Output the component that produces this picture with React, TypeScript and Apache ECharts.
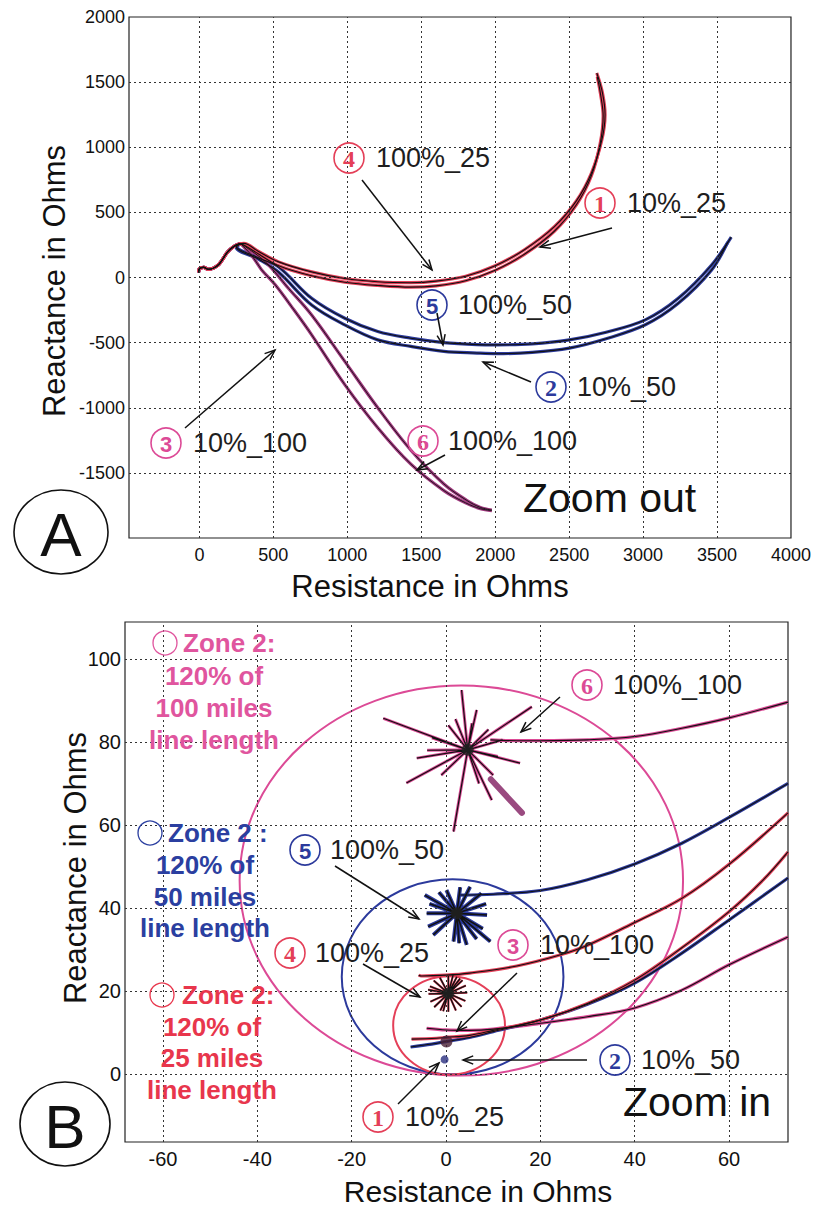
import React, { useEffect, useRef } from 'react';
import * as echarts from 'echarts';

const FONT = '"Liberation Sans", Arial, sans-serif';
const SERIF = '"Liberation Serif", "DejaVu Serif", serif';

const RED = '#e43f58';
const BLUE = '#2c3a9c';
const PINK = '#dc4a96';
const PURPLE = '#a0387e';
const INK = '#1e1e1e';

// ---------- Panel A (zoom out) ----------
const aXLabels = [0, 500, 1000, 1500, 2000, 2500, 3000, 3500, 4000];
const aYLabels = [-1500, -1000, -500, 0, 500, 1000, 1500, 2000];
const aXGrid = [0, 500, 1000, 1500, 2000, 2500, 3000, 3500];
const aYGrid = [-1500, -1000, -500, 0, 500, 1000, 1500];

const aCommonStart = [[-5, 40], [0, 68], [30, 78], [60, 62], [95, 72], [135, 105], [190, 195], [235, 240], [275, 258]];
const aRed10_25 = [[300, 262], [400, 200], [536, 120], [759, 43], [983, -8], [1206, -33], [1430, -40], [1600, -28], [1800, 10], [2000, 90], [2200, 215], [2400, 390], [2550, 590], [2650, 800], [2720, 1050], [2743, 1250], [2725, 1420], [2687, 1570]];
const aRed100_25 = [[300, 250], [400, 180], [536, 90], [759, 13], [983, -36], [1206, -61], [1430, -74], [1600, -64], [1800, -25], [2000, 55], [2200, 180], [2400, 355], [2550, 560], [2650, 780], [2710, 1030], [2730, 1240], [2712, 1410], [2690, 1540]];
const aBlue10_50 = [[250, 230], [402, 140], [536, 40], [759, -211], [983, -364], [1206, -479], [1430, -529], [1653, -567], [1876, -580], [2010, -585], [2250, -575], [2501, -542], [2750, -470], [3015, -363], [3238, -198], [3462, 56], [3573, 272]];
const aBlue100_50 = [[250, 240], [402, 150], [536, 80], [759, -160], [983, -313], [1206, -415], [1430, -466], [1653, -500], [1876, -515], [2010, -517], [2250, -510], [2501, -479], [2750, -420], [3015, -325], [3238, -160], [3462, 94], [3596, 310]];
const aPurple10_100 = [[300, 235], [360, 160], [420, 60], [514, -58], [640, -250], [759, -440], [983, -822], [1206, -1153], [1430, -1433], [1653, -1636], [1800, -1730], [1900, -1775], [1977, -1790]];
const aPurple100_100 = [[300, 245], [447, 120], [603, -84], [759, -288], [983, -644], [1206, -1000], [1430, -1326], [1653, -1585], [1809, -1712], [1900, -1765], [1977, -1785]];

// ---------- Panel B (zoom in) ----------
const bXLabels = [-60, -40, -20, 0, 20, 40, 60];
const bYLabels = [0, 20, 40, 60, 80, 100];

const bLine100_100 = [[9.4, 80.5], [15, 80.3], [20, 80.3], [30, 80.5], [40, 81.3], [50, 83.3], [60, 85.8], [72.5, 89.6]];
const bLine100_50 = [[3, 43.1], [10, 43.3], [20, 44.2], [30, 46.8], [40, 50.6], [50, 55.6], [60, 61.8], [72.5, 70]];
const bLine100_25 = [[-5.8, 23.8], [-5.2, 23.6], [0, 23.8], [5, 24.3], [15, 26], [24.3, 28.7], [30, 31], [40, 36.5], [50, 42.3], [60, 50.5], [72.5, 62.9]];
const bLine10_25 = [[-7.3, 8.4], [-2, 8.6], [0, 8.8], [5, 9.3], [10, 10.5], [20, 13], [30, 17], [40, 22.6], [50, 30.4], [60, 39.1], [67.2, 46.7], [72.5, 53.5]];
const bLine10_50 = [[-7.5, 6.5], [-3, 7.2], [0, 7.8], [5, 8.8], [10, 10.2], [20, 13], [30, 16.8], [40, 21.9], [50, 29.1], [60, 37.1], [72.5, 47.2]];
const bLine10_100 = [[-4.1, 11], [0, 10.6], [5, 10.5], [10, 10.8], [20, 12.2], [30, 13.8], [40, 15.9], [50, 20.2], [60, 26.3], [72.5, 33]];

const bStar6Center = [4.6, 78.1];
const bStar6Tips = [[3.3, 92.5], [6.5, 87.7], [18.2, 88.5], [-13.3, 85.7], [15.7, 74.9], [-6.2, 76.1], [-8.4, 70.1], [1.6, 58.4], [9.7, 66], [0.5, 84], [9, 83], [12, 80.5], [10, 72], [-1, 72], [-3, 81], [7, 70], [2, 85.5], [-4, 78], [11, 76.5], [5.5, 84.5]];
const bStar6Filled = [[9.5, 71], [16.1, 62.9]];
const bStar5Center = [2.3, 38.7];
const bStar5Tips = [[-4.5, 43.1], [0.1, 44.3], [5.1, 45.1], [7.5, 43.5], [8.7, 38.3], [9.4, 31.9], [4.4, 31.1], [1.6, 31.9], [-2.7, 33.5], [-4.1, 38.7], [-3.5, 41], [7.8, 35], [3, 45], [-1.5, 43.8], [8.5, 41], [-3.8, 35.5], [6.5, 32.5], [2.8, 31.5]];
const bStar4Center = [0.5, 19.4];
const bStar4Tips = [[4.5, 19.6], [4.2, 21.3], [3.5, 22.6], [2.3, 23.4], [0.5, 23.6], [-1.3, 23.2], [-2.6, 22.5], [-3.4, 21.1], [-3.7, 19.3], [-3.3, 17.4], [-2.5, 16.1], [-1.2, 15.3], [0.5, 15], [2.1, 15.3], [3.3, 16.2], [4.1, 17.6], [-3.8, 20.3], [1.5, 23.8], [-0.6, 15.1], [3, 23]];
const bDot10_100 = [[0.1, 7.8]];
const bDot10_25 = [[-0.3, 3.5]];

// zone-2 mho circles: [centerR, centerX, radius]
const bZoneCircles = [[3.25, 46.6, 47], [1.4, 23.4, 23.5], [0.65, 11.7, 11.85]];
const bZoneColors = [PINK, BLUE, RED];

function spokes(center: number[], tips: number[][]) {
  const out: number[][] = [];
  tips.forEach((t) => { out.push(center, t); });
  out.push(center);
  return out;
}

function dualLine(data: number[][], color: string, gi: number, w = 3.2, bw = 1.1, smooth: any = 0.35) {
  return [
    { type: 'line', xAxisIndex: gi, yAxisIndex: gi, data, smooth, showSymbol: false, symbol: 'none', lineStyle: { color, width: w }, z: 3, silent: true },
    { type: 'line', xAxisIndex: gi, yAxisIndex: gi, data, smooth, showSymbol: false, symbol: 'none', lineStyle: { color: '#111', width: bw }, z: 4, silent: true },
  ];
}

function gridSeries(gi: number, xs: number[], ys: number[]) {
  return {
    type: 'line', xAxisIndex: gi, yAxisIndex: gi, data: [], silent: true, z: 1,
    markLine: {
      silent: true, symbol: ['none', 'none'], label: { show: false }, animation: false,
      lineStyle: { type: [2, 3], color: '#333', width: 1 },
      data: [...xs.map((v) => ({ xAxis: v })), ...ys.map((v) => ({ yAxis: v }))],
    },
  };
}

function arrow(x1: number, y1: number, x2: number, y2: number) {
  const a = Math.atan2(y2 - y1, x2 - x1);
  const L = 11, s = 0.38;
  return [
    { type: 'line', shape: { x1, y1, x2, y2 }, style: { stroke: '#111', lineWidth: 1.5 }, z: 100 },
    { type: 'polyline', shape: { points: [[x2 - L * Math.cos(a - s), y2 - L * Math.sin(a - s)], [x2, y2], [x2 - L * Math.cos(a + s), y2 - L * Math.sin(a + s)]] }, style: { stroke: '#111', lineWidth: 1.5, fill: 'none' }, z: 100 },
  ];
}

function txt(text: string, x: number, y: number, size: number, color: string, opts: any = {}) {
  const align = opts.align || 'left';
  return {
    type: 'text', x, y, rotation: opts.rotation || 0, z: 101,
    style: {
      text, fill: color, font: `${opts.bold ? 'bold ' : ''}${size}px ${opts.family || FONT}`,
      textAlign: align, align, textVerticalAlign: 'middle', verticalAlign: 'middle',
    },
  };
}

function circledNum(n: string, cx: number, cy: number, color: string, serif: boolean) {
  return [
    { type: 'circle', shape: { cx, cy, r: 15 }, style: { stroke: color, lineWidth: 1.6, fill: 'none' }, z: 100 },
    txt(n, cx, cy + 1, serif ? 24 : 22, color, { align: 'center', family: serif ? SERIF : FONT, bold: true }),
  ];
}

const annA = [
  { n: '4', c: RED, serif: true, cx: 349, cy: 158, label: '100%_25', tx: 376 },
  { n: '1', c: RED, serif: true, cx: 600, cy: 203, label: '10%_25', tx: 627 },
  { n: '5', c: BLUE, serif: false, cx: 432, cy: 305, label: '100%_50', tx: 458 },
  { n: '2', c: BLUE, serif: true, cx: 551, cy: 387, label: '10%_50', tx: 577 },
  { n: '3', c: PINK, serif: false, cx: 166, cy: 443, label: '10%_100', tx: 193 },
  { n: '6', c: PINK, serif: true, cx: 423, cy: 441, label: '100%_100', tx: 448 },
];
const arrowsA = [[362, 180, 432, 270], [612, 228, 540, 247], [437, 313, 443, 345], [531, 382, 483, 362], [185, 428, 275, 350], [445, 455, 417, 470]];

const annB = [
  { n: '6', c: PINK, serif: true, cx: 587, cy: 685, label: '100%_100', tx: 613 },
  { n: '5', c: BLUE, serif: false, cx: 305, cy: 850, label: '100%_50', tx: 330 },
  { n: '4', c: RED, serif: true, cx: 290, cy: 953, label: '100%_25', tx: 315 },
  { n: '3', c: PINK, serif: false, cx: 513, cy: 945, label: '10%_100', tx: 540 },
  { n: '2', c: BLUE, serif: true, cx: 615, cy: 1060, label: '10%_50', tx: 641 },
  { n: '1', c: RED, serif: true, cx: 378, cy: 1117, label: '10%_25', tx: 405 },
];
const arrowsB = [[560, 697, 521, 732], [335, 866, 419, 919], [363, 964, 420, 997], [517, 973, 457, 1031], [587, 1060, 463, 1060], [398, 1104, 439, 1063]];

const zoneNotes = [
  { color: '#e0559e', cx: 165, cy: 643, first: 'Zone 2:', fx: 183, lines: ['120% of', '100 miles', 'line length'], mx: 214, ys: [676, 708, 740] },
  { color: '#2b3fa0', cx: 150, cy: 833, first: 'Zone 2 :', fx: 168, lines: ['120% of', '50 miles', 'line length'], mx: 205, ys: [865, 897, 928] },
  { color: '#e8364c', cx: 162, cy: 995, first: 'Zone 2:', fx: 182, lines: ['120% of', '25 miles', 'line length'], mx: 212, ys: [1027, 1058, 1090] },
];

export default function App() {
  const ref = useRef<HTMLDivElement>(null);
  useEffect(() => {
    if (!ref.current) return;
    const chart = echarts.init(ref.current, null, { renderer: 'svg' });

    const graphics: any[] = [];
    annA.concat(annB).forEach((a) => {
      graphics.push(...circledNum(a.n, a.cx, a.cy, a.c, a.serif));
      graphics.push(txt(a.label, a.tx, a.cy, 27, INK));
    });
    arrowsA.concat(arrowsB).forEach((r) => graphics.push(...arrow(r[0], r[1], r[2], r[3])));
    zoneNotes.forEach((z) => {
      graphics.push({ type: 'circle', shape: { cx: z.cx, cy: z.cy, r: 12 }, style: { stroke: z.color, lineWidth: 1.3, fill: 'none' }, z: 100 });
      graphics.push(txt(z.first, z.fx, z.cy, 26, z.color, { bold: true }));
      z.lines.forEach((l, i) => graphics.push(txt(l, z.mx, z.ys[i], 26, z.color, { bold: true, align: 'center' })));
    });
    // panel letters
    graphics.push({ type: 'ellipse', shape: { cx: 61, cy: 532, rx: 47, ry: 42 }, style: { stroke: '#111', lineWidth: 1.6, fill: 'none' }, z: 100 });
    graphics.push(txt('A', 61, 534, 62, '#111', { align: 'center' }));
    graphics.push({ type: 'ellipse', shape: { cx: 65, cy: 1124, rx: 45, ry: 42 }, style: { stroke: '#111', lineWidth: 1.6, fill: 'none' }, z: 100 });
    graphics.push(txt('B', 65, 1126, 62, '#111', { align: 'center' }));
    graphics.push(txt('Zoom out', 523, 498, 41, '#111'));
    graphics.push(txt('Zoom in', 623, 1102, 41, '#111'));
    // axis titles
    graphics.push(txt('Reactance in Ohms', 54, 281, 31, '#111', { align: 'center', rotation: Math.PI / 2 }));
    graphics.push(txt('Resistance in Ohms', 430, 586, 31, '#111', { align: 'center' }));
    graphics.push(txt('Reactance in Ohms', 75, 868, 31, '#111', { align: 'center', rotation: Math.PI / 2 }));
    graphics.push(txt('Resistance in Ohms', 478, 1191, 30, '#111', { align: 'center' }));

    const labelStyle = (size: number) => ({ fontSize: size, color: '#111', fontFamily: FONT, formatter: (v: number) => String(v) });

    const series: any[] = [
      gridSeries(0, aXGrid, aYGrid),
      gridSeries(1, bXLabels, bYLabels),
      ...dualLine(aCommonStart.concat(aBlue10_50), BLUE, 0),
      ...dualLine(aCommonStart.concat(aBlue100_50), BLUE, 0),
      ...dualLine(aCommonStart.concat(aPurple10_100), PURPLE, 0, 3.2, 0.9),
      ...dualLine(aCommonStart.concat(aPurple100_100), PURPLE, 0, 3.2, 0.9),
      ...dualLine(aCommonStart.concat(aRed10_25), RED, 0),
      ...dualLine(aCommonStart.concat(aRed100_25), RED, 0),
      {
        type: 'custom', xAxisIndex: 1, yAxisIndex: 1, data: bZoneCircles, silent: true, z: 2, clip: true,
        renderItem: (params: any, api: any) => {
          const c = api.coord([api.value(0), api.value(1)]);
          const r = api.value(2);
          const rx = api.size([r, 0])[0];
          const ry = api.size([0, r])[1];
          return { type: 'ellipse', shape: { cx: c[0], cy: c[1], rx, ry }, style: { fill: 'none', stroke: bZoneColors[params.dataIndex], lineWidth: 2 } };
        },
      },
      ...dualLine(bLine100_100, PINK, 1),
      ...dualLine(bLine100_50, BLUE, 1),
      ...dualLine(bLine100_25, RED, 1),
      ...dualLine(bLine10_100, PINK, 1),
      ...dualLine(bLine10_50, BLUE, 1),
      ...dualLine(bLine10_25, RED, 1),
      ...dualLine(spokes(bStar6Center, bStar6Tips), PINK, 1, 3, 1.2, false),
      { type: 'line', xAxisIndex: 1, yAxisIndex: 1, data: bStar6Filled, symbol: 'none', lineStyle: { color: '#9a4a80', width: 6, cap: 'round' }, z: 5, silent: true },
      ...dualLine(spokes(bStar5Center, bStar5Tips), BLUE, 1, 4, 1.6, false),
      ...dualLine(spokes(bStar4Center, bStar4Tips), RED, 1, 2.2, 1.4, false),
      { type: 'scatter', xAxisIndex: 1, yAxisIndex: 1, data: [bStar6Center, bStar5Center, bStar4Center], symbolSize: 12, itemStyle: { color: '#222' }, z: 6, silent: true },
      { type: 'scatter', xAxisIndex: 1, yAxisIndex: 1, data: bDot10_100, symbolSize: 12, itemStyle: { color: '#4a2036' }, z: 6, silent: true },
      { type: 'scatter', xAxisIndex: 1, yAxisIndex: 1, data: bDot10_25, symbolSize: 8, itemStyle: { color: '#2a2f80' }, z: 6, silent: true },
    ];

    chart.setOption({
      animation: false,
      backgroundColor: '#ffffff',
      grid: [
        { left: 129, top: 17, width: 668, height: 521, show: true, borderColor: '#222', borderWidth: 1.2, backgroundColor: 'transparent' },
        { left: 125, top: 622, width: 663, height: 520, show: true, borderColor: '#222', borderWidth: 1.2, backgroundColor: 'transparent' },
      ],
      xAxis: [
        { gridIndex: 0, type: 'value', min: -476, max: 4000, axisLine: { show: false }, axisTick: { show: false }, splitLine: { show: false }, axisLabel: { customValues: aXLabels, margin: 8, ...labelStyle(18) } },
        { gridIndex: 1, type: 'value', min: -68.05, max: 72.5, axisLine: { show: false }, axisTick: { show: false }, splitLine: { show: false }, axisLabel: { customValues: bXLabels, margin: 7, ...labelStyle(20) } },
      ],
      yAxis: [
        { gridIndex: 0, type: 'value', min: -2000, max: 2000, axisLine: { show: false }, axisTick: { show: false }, splitLine: { show: false }, axisLabel: { customValues: aYLabels, margin: 4, ...labelStyle(18) } },
        { gridIndex: 1, type: 'value', min: -16.4, max: 108.9, axisLine: { show: false }, axisTick: { show: false }, splitLine: { show: false }, axisLabel: { customValues: bYLabels, margin: 4, ...labelStyle(20) } },
      ],
      series,
      graphic: graphics,
    });
    return () => chart.dispose();
  }, []);
  return <div ref={ref} style={{ position: 'absolute', left: 0, top: 0, width: 814, height: 1208, background: '#fff' }} />;
}
